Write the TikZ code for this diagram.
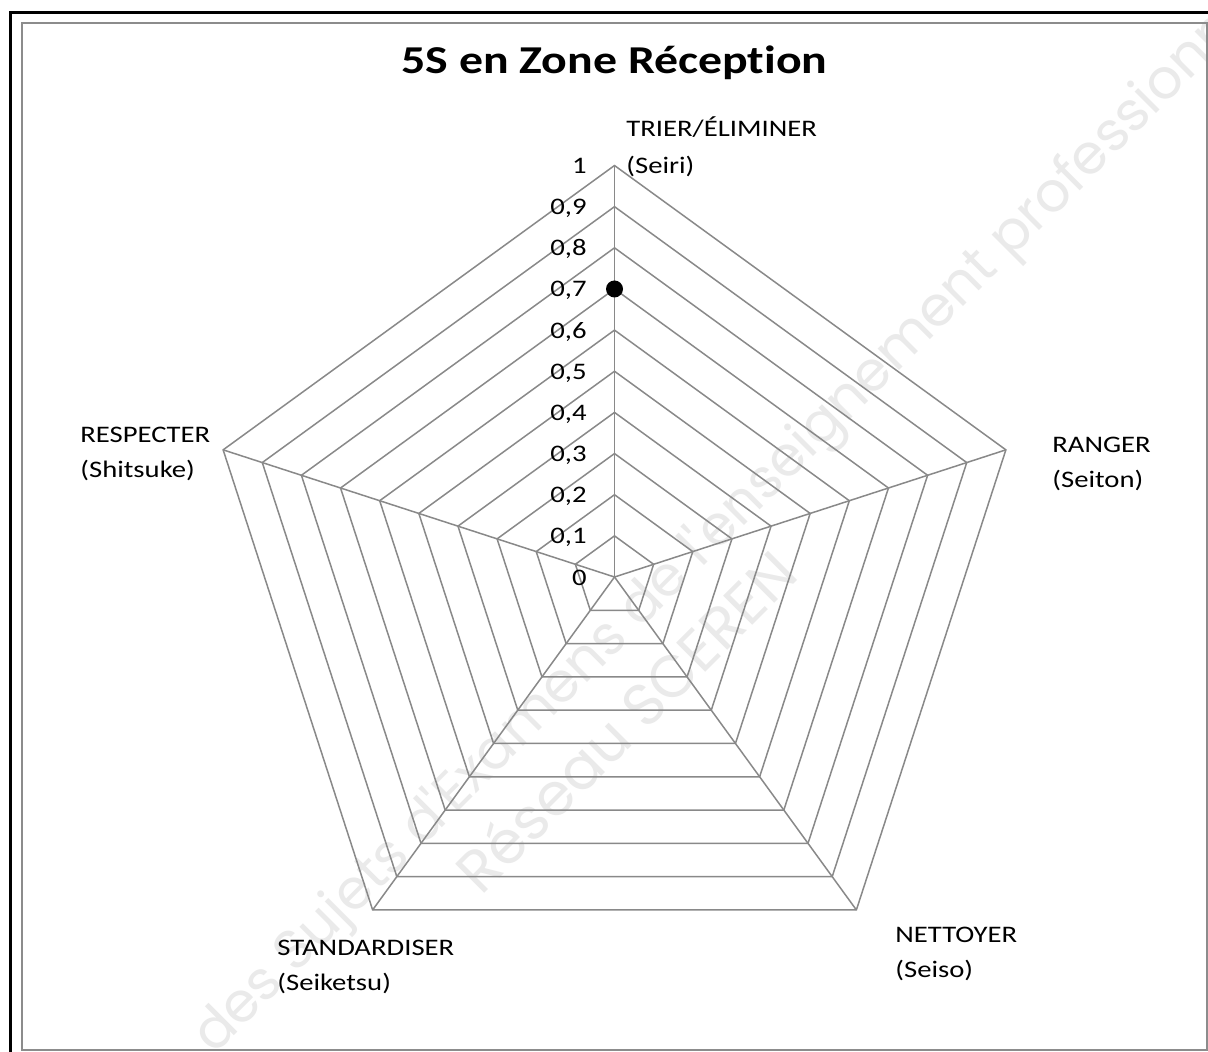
\documentclass[tikz,border=0pt]{standalone}
\usepackage{fontspec}
\setmainfont{Carlito}[FakeStretch=1.21, Ligatures=NoCommon]
\newfontfamily\wmfont{Poppins}
\definecolor{gridgray}{HTML}{898989}
\definecolor{framegray}{HTML}{8C8C8C}
\definecolor{wmgray}{HTML}{EAEAEA}
\tikzset{
  gridline/.style={draw=gridgray, line width=0.75pt, line join=miter},
  lbl/.style={inner sep=0pt, font=\fontsize{11.85}{14}\selectfont},
  catlbl/.style={lbl, anchor=base west},
  vallbl/.style={lbl, anchor=base east},
  wmtext/.style={inner sep=0pt, anchor=base west, rotate=45, text=wmgray},
}
\begin{document}
\begin{tikzpicture}[x=0.5pt,y=-0.5pt]
\useasboundingbox (0,0) rectangle (1208,1051);
\clip (0,0) rectangle (1208,1051);
\fill[white] (0,0) rectangle (1208,1051);

% watermark
\node[wmtext, font=\wmfont\fontsize{27.6}{32}\selectfont] (wm1) at (214,1056) {des Sujets d'Examens de l'enseignement professionnel};
\node[wmtext, font=\wmfont\fontsize{29.5}{34}\selectfont] (wm2) at (481,897) {Réseau SCEREN};

% frames
\draw[line width=1.5pt] (10.5,1070) -- (10.5,12) -- (1230,12);
\draw[framegray, line width=1pt] (21.5,23) rectangle (1206.5,1049.5);

% title
\node[inner sep=0pt, anchor=base, font=\bfseries\fontsize{19.75}{24}\selectfont] (title) at (614.5,73.5) {5S en Zone Réception};

% radar
\begin{scope}[shift={(614.5,577)}, y=0.5pt]
  \def\R{411.5}
  \coordinate (c) at (0,0);
  \foreach \i/\a in {1/90,2/18,3/-54,4/-126,5/162} {
    \coordinate (v\i) at (\a:\R);
  }
  \foreach \k in {1,...,10} {
    \pgfmathsetmacro{\r}{\k*\R/10}
    \draw[gridline] (90:\r) -- (18:\r) -- (-54:\r) -- (-126:\r) -- (162:\r) -- cycle;
  }
  \foreach \i in {1,...,5} {
    \draw[gridline] (c) -- (v\i);
  }
  \foreach \k/\t in {0/0,1/{0,1},2/{0,2},3/{0,3},4/{0,4},5/{0,5},6/{0,6},7/{0,7},8/{0,8},9/{0,9},10/1} {
    \node[vallbl] (val\k) at (-27.5,{\k*\R/10-8}) {\t};
  }
  \node[circle, fill=black, inner sep=0pt, minimum size=8.5pt] (pt) at (90:{0.7*\R}) {};
\end{scope}

% category labels
\node[catlbl] (trierA) at (626,136) {TRIER/ÉLIMINER};
\node[catlbl] (trierB) at (626,173.5) {(Seiri)};
\node[catlbl] (rangerA) at (1052,452) {RANGER};
\node[catlbl] (rangerB) at (1052,487.5) {(Seiton)};
\node[catlbl] (nettA) at (895,942) {NETTOYER};
\node[catlbl] (nettB) at (895,977.5) {(Seiso)};
\node[catlbl] (stdA) at (277,955) {STANDARDISER};
\node[catlbl] (stdB) at (277,990.5) {(Seiketsu)};
\node[catlbl] (respA) at (80,442) {RESPECTER};
\node[catlbl] (respB) at (80,477.5) {(Shitsuke)};
\end{tikzpicture}
\end{document}
